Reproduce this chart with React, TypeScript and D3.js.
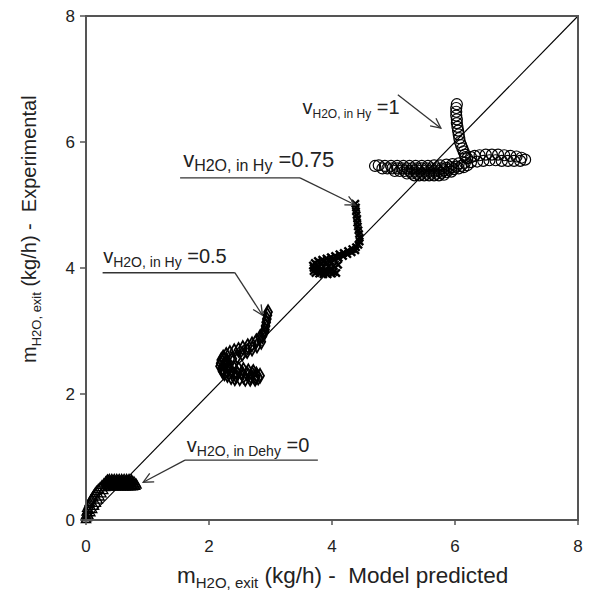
import React from "react";
import * as d3 from "d3";

// ---- data (kg/h) ----
const ticks = [0, 2, 4, 6, 8];

// v_H2O,in Dehy = 0  (triangles)
const seriesDehy0: [number, number][] = [
  [0.0, 0.0], [0.01, 0.03], [0.0, 0.06], [0.02, 0.09], [0.01, 0.12], [0.03, 0.15], [0.02, 0.18],
  [0.04, 0.21], [0.05, 0.24], [0.06, 0.27], [0.08, 0.3], [0.09, 0.33], [0.11, 0.36], [0.13, 0.39],
  [0.15, 0.42], [0.17, 0.45], [0.2, 0.48], [0.23, 0.51], [0.26, 0.54], [0.29, 0.57], [0.32, 0.6],
  [0.35, 0.63],
  [0.04, 0.06], [0.07, 0.11], [0.1, 0.16], [0.13, 0.21], [0.16, 0.26], [0.19, 0.31], [0.22, 0.36],
  [0.25, 0.41], [0.28, 0.46], [0.31, 0.51],
  [0.38, 0.64], [0.42, 0.64], [0.46, 0.64], [0.5, 0.64], [0.54, 0.64], [0.58, 0.64], [0.62, 0.64],
  [0.66, 0.64], [0.7, 0.64], [0.74, 0.63],
  [0.34, 0.61], [0.38, 0.61], [0.42, 0.61], [0.46, 0.61], [0.5, 0.61], [0.54, 0.61], [0.58, 0.61],
  [0.62, 0.61], [0.66, 0.61], [0.7, 0.61], [0.74, 0.61], [0.78, 0.6],
  [0.33, 0.58], [0.37, 0.58], [0.41, 0.58], [0.45, 0.58], [0.49, 0.58], [0.53, 0.58], [0.57, 0.58],
  [0.61, 0.58], [0.65, 0.58], [0.69, 0.58], [0.73, 0.58], [0.77, 0.58], [0.81, 0.57],
  [0.34, 0.55], [0.38, 0.55], [0.42, 0.55], [0.46, 0.55], [0.5, 0.55], [0.54, 0.55], [0.58, 0.55],
  [0.62, 0.55], [0.66, 0.55], [0.7, 0.55], [0.74, 0.55], [0.78, 0.55], [0.82, 0.55],
  [0.36, 0.52], [0.4, 0.52], [0.44, 0.52], [0.48, 0.52], [0.52, 0.52], [0.56, 0.52], [0.6, 0.52],
  [0.64, 0.52], [0.68, 0.52], [0.72, 0.52], [0.76, 0.52], [0.8, 0.53],
];

// v_H2O,in Hy = 0.5 (diamonds)
const seriesHy05: [number, number][] = [
  [2.96, 3.3], [2.95, 3.25], [2.94, 3.19], [2.93, 3.14], [2.92, 3.08], [2.91, 3.02], [2.88, 2.96],
  [2.83, 2.9], [2.77, 2.84], [2.7, 2.79], [2.63, 2.76], [2.55, 2.73], [2.48, 2.7], [2.41, 2.68],
  [2.34, 2.65], [2.28, 2.62], [2.23, 2.58], [2.2, 2.54], [2.19, 2.49], [2.18, 2.44], [2.21, 2.4],
  [2.24, 2.38], [2.3, 2.36], [2.37, 2.35], [2.45, 2.34], [2.54, 2.33], [2.62, 2.32], [2.7, 2.32],
  [2.77, 2.31], [2.83, 2.29], [2.8, 2.26], [2.75, 2.24], [2.67, 2.24], [2.59, 2.24], [2.5, 2.25],
  [2.42, 2.25], [2.36, 2.27], [2.3, 2.3], [2.25, 2.33], [2.22, 2.36],
  [2.26, 2.46], [2.32, 2.44], [2.4, 2.42], [2.48, 2.4], [2.56, 2.38], [2.64, 2.36], [2.72, 2.35],
  [2.3, 2.52], [2.38, 2.56], [2.46, 2.6], [2.54, 2.64], [2.62, 2.68], [2.7, 2.72], [2.78, 2.77],
  [2.85, 2.83], [2.32, 2.4], [2.44, 2.29], [2.56, 2.28], [2.68, 2.28], [2.76, 2.27],
  [2.27, 2.5], [2.24, 2.54], [2.9, 2.98], [2.87, 2.92],
];

// v_H2O,in Hy = 0.75 (x marks)
const seriesHy075: [number, number][] = [
  [4.38, 5.02], [4.39, 4.96], [4.39, 4.9], [4.4, 4.84], [4.41, 4.78], [4.41, 4.72], [4.42, 4.66],
  [4.43, 4.6], [4.44, 4.54], [4.45, 4.48], [4.45, 4.42], [4.43, 4.37], [4.39, 4.33], [4.33, 4.3],
  [4.26, 4.27], [4.19, 4.24], [4.12, 4.22], [4.05, 4.19], [3.98, 4.17], [3.91, 4.15], [3.84, 4.13],
  [3.77, 4.11], [3.72, 4.08], [3.69, 4.04], [3.7, 4.0], [3.75, 3.98], [3.82, 3.97], [3.89, 3.96],
  [3.96, 3.95], [4.03, 3.94], [4.07, 3.92], [4.0, 3.91], [3.93, 3.9], [3.86, 3.9], [3.79, 3.91],
  [3.73, 3.92], [3.7, 3.95], [3.76, 4.05], [3.83, 4.07], [3.9, 4.09], [3.97, 4.11], [4.04, 4.13],
  [4.11, 4.16], [4.18, 4.19], [4.25, 4.22], [4.32, 4.25], [4.38, 4.28], [3.78, 4.02],
  [3.86, 4.02], [3.94, 4.02], [4.02, 4.03], [4.1, 4.05], [3.8, 3.94], [3.9, 3.93], [4.0, 3.98],
];

// v_H2O,in Hy = 1 (circles)
const seriesHy1: [number, number][] = [
  [6.03, 6.6], [6.02, 6.54], [6.02, 6.48], [6.02, 6.42], [6.03, 6.36], [6.03, 6.3], [6.04, 6.24],
  [6.05, 6.18], [6.06, 6.12], [6.07, 6.06], [6.08, 6.0], [6.1, 5.95], [6.12, 5.9], [6.14, 5.85],
  [6.16, 5.8], [6.17, 5.76],
  [6.2, 5.74], [6.26, 5.76], [6.32, 5.78], [6.4, 5.79], [6.5, 5.8], [6.6, 5.8], [6.7, 5.8],
  [6.8, 5.79], [6.9, 5.78], [7.0, 5.77], [7.08, 5.75], [7.14, 5.72], [7.06, 5.7], [6.96, 5.7],
  [6.86, 5.7], [6.76, 5.7], [6.66, 5.71], [6.56, 5.71], [6.46, 5.7], [6.36, 5.69], [6.26, 5.68],
  [6.16, 5.67], [6.06, 5.66],
  [5.96, 5.65], [5.86, 5.64], [5.76, 5.63], [5.66, 5.63], [5.56, 5.62], [5.46, 5.62], [5.36, 5.62],
  [5.26, 5.62], [5.16, 5.62], [5.06, 5.62], [4.96, 5.62], [4.86, 5.62], [4.76, 5.63], [4.7, 5.62],
  [4.82, 5.58], [4.9, 5.58], [4.98, 5.58], [5.06, 5.58], [5.14, 5.58], [5.22, 5.58], [5.3, 5.58],
  [5.38, 5.58], [5.46, 5.58], [5.54, 5.58], [5.62, 5.58], [5.7, 5.58], [5.78, 5.58], [5.86, 5.59],
  [5.94, 5.6], [6.02, 5.61], [6.1, 5.62],
  [5.02, 5.54], [5.1, 5.54], [5.18, 5.54], [5.26, 5.54], [5.34, 5.54], [5.42, 5.54], [5.5, 5.54],
  [5.58, 5.54], [5.66, 5.54], [5.74, 5.54], [5.82, 5.55], [5.9, 5.56], [5.98, 5.57], [6.06, 5.58],
  [6.14, 5.6], [6.2, 5.63],
  [5.22, 5.5], [5.3, 5.5], [5.38, 5.5], [5.46, 5.5], [5.54, 5.5], [5.62, 5.5], [5.7, 5.5],
  [5.78, 5.51], [5.86, 5.52], [5.94, 5.53],
  [5.34, 5.47], [5.42, 5.47], [5.5, 5.47], [5.58, 5.47], [5.66, 5.47], [5.74, 5.47], [5.82, 5.48],
];

// annotations: label value, text anchor (data), underline (data), arrow start / tip (data)
const annLabels = ["in Hy", "in Hy", "in Hy", "in Dehy"];
const annValues = ["=1", "=0.75", "=0.5", "=0"];
const annMainSize = [20, 22, 20, 20];
const annSubSize = [12, 16, 14, 14];
const annTextX = [3.52, 1.58, 0.28, 1.64];
const annTextY = [6.45, 5.6, 4.08, 1.08];
const annHasUnderline = [false, true, true, true];
const annLineX0 = [3.42, 1.53, 0.27, 1.61];
const annLineX1 = [4.95, 3.48, 2.42, 3.77];
const annLineY = [6.27, 5.43, 3.925, 0.95];
const annStartX = [5.07, 3.48, 2.42, 1.61];
const annStartY = [6.75, 5.43, 3.925, 0.95];
const annTipX = [5.77, 4.38, 2.87, 0.93];
const annTipY = [6.22, 5.0, 3.25, 0.6];

export default function App() {
  const W = 600, H = 596;
  const x = d3.scaleLinear().domain([0, 8]).range([86, 578]);
  const y = d3.scaleLinear().domain([0, 8]).range([520, 16]);

  const tri = d3.symbol().type(d3.symbolTriangle).size(38)()!;
  const dia = d3.symbol().type(d3.symbolDiamond).size(55)()!;
  const cir = d3.symbol().type(d3.symbolCircle).size(95)()!;
  const xs = 3.6;
  const xMark = `M${-xs},${-xs}L${xs},${xs}M${-xs},${xs}L${xs},${-xs}`;

  const font = "Liberation Sans, Arial, sans-serif";
  const axisColor = "#555";

  const markers = (data: [number, number][], path: string, key: string, sw = 1.1) =>
    data.map((d, i) => (
      <path
        key={key + i}
        d={path}
        transform={`translate(${x(d[0])},${y(d[1])})`}
        fill="none"
        stroke="#000"
        strokeWidth={sw}
      />
    ));

  return (
    <svg
      width={W}
      height={H}
      style={{ position: "absolute", left: 0, top: 0, background: "#fff" }}
      fontFamily={font}
    >
      <rect x={0} y={0} width={W} height={H} fill="#fff" />
      {/* 1:1 line */}
      <line x1={x(0)} y1={y(0)} x2={x(8)} y2={y(8)} stroke="#000" strokeWidth={1.1} />

      {/* markers */}
      <g>{markers(seriesDehy0, tri, "t", 1.3)}</g>
      <g>{markers(seriesHy05, dia, "d", 1.8)}</g>
      <g>{markers(seriesHy075, xMark, "x", 2.4)}</g>
      <g>{markers(seriesHy1, cir, "c", 1.2)}</g>

      {/* frame */}
      <rect
        x={x(0)}
        y={y(8)}
        width={x(8) - x(0)}
        height={y(0) - y(8)}
        fill="none"
        stroke={axisColor}
        strokeWidth={2}
      />
      {/* ticks */}
      {ticks.map((t) => (
        <g key={"xt" + t}>
          <line x1={x(t)} x2={x(t)} y1={y(0)} y2={y(0) + 5} stroke={axisColor} strokeWidth={1.5} />
          <text x={x(t)} y={552} textAnchor="middle" fontSize={17} fill="#222">
            {t}
          </text>
        </g>
      ))}
      {ticks.map((t) => (
        <g key={"yt" + t}>
          <line x1={x(0) - 6} x2={x(0)} y1={y(t)} y2={y(t)} stroke={axisColor} strokeWidth={1.5} />
          <text x={75} y={y(t) + 6} textAnchor="end" fontSize={17} fill="#222">
            {t}
          </text>
        </g>
      ))}

      {/* axis titles */}
      <text x={177} y={583} fontSize={22.5} fill="#222" style={{ whiteSpace: "pre" }}>
        m<tspan fontSize={15} dy={5}>H2O, exit</tspan>
        <tspan dy={-5}>{" (kg/h) -  Model predicted"}</tspan>
      </text>
      <text
        transform="translate(36,363) rotate(-90)"
        fontSize={20}
        fill="#222"
        style={{ whiteSpace: "pre" }}
      >
        m<tspan fontSize={13} dy={5}>H2O, exit</tspan>
        <tspan dy={-5}>{" (kg/h) -  Experimental"}</tspan>
      </text>

      {/* annotations */}
      {annValues.map((v, i) => {
        const sx = x(annStartX[i]);
        const sy = y(annStartY[i]);
        const tx = x(annTipX[i]);
        const ty = y(annTipY[i]);
        const ang = Math.atan2(ty - sy, tx - sx);
        const L = 11, A = 0.45;
        const h1 = [tx - L * Math.cos(ang - A), ty - L * Math.sin(ang - A)];
        const h2 = [tx - L * Math.cos(ang + A), ty - L * Math.sin(ang + A)];
        return (
          <g key={"a" + i}>
            <text x={x(annTextX[i])} y={y(annTextY[i])} fontSize={annMainSize[i]} fill="#222">
              v<tspan fontSize={annSubSize[i]} dy={4}>{"H2O, " + annLabels[i]}</tspan>
              <tspan dy={-4}>{" " + v}</tspan>
            </text>
            {annHasUnderline[i] && (
              <line
                x1={x(annLineX0[i])}
                x2={x(annLineX1[i])}
                y1={y(annLineY[i])}
                y2={y(annLineY[i])}
                stroke="#333"
                strokeWidth={1.3}
              />
            )}
            <line x1={sx} y1={sy} x2={tx} y2={ty} stroke="#333" strokeWidth={1.3} />
            <polyline
              points={`${h1[0]},${h1[1]} ${tx},${ty} ${h2[0]},${h2[1]}`}
              fill="none"
              stroke="#333"
              strokeWidth={1.3}
            />
          </g>
        );
      })}
    </svg>
  );
}
